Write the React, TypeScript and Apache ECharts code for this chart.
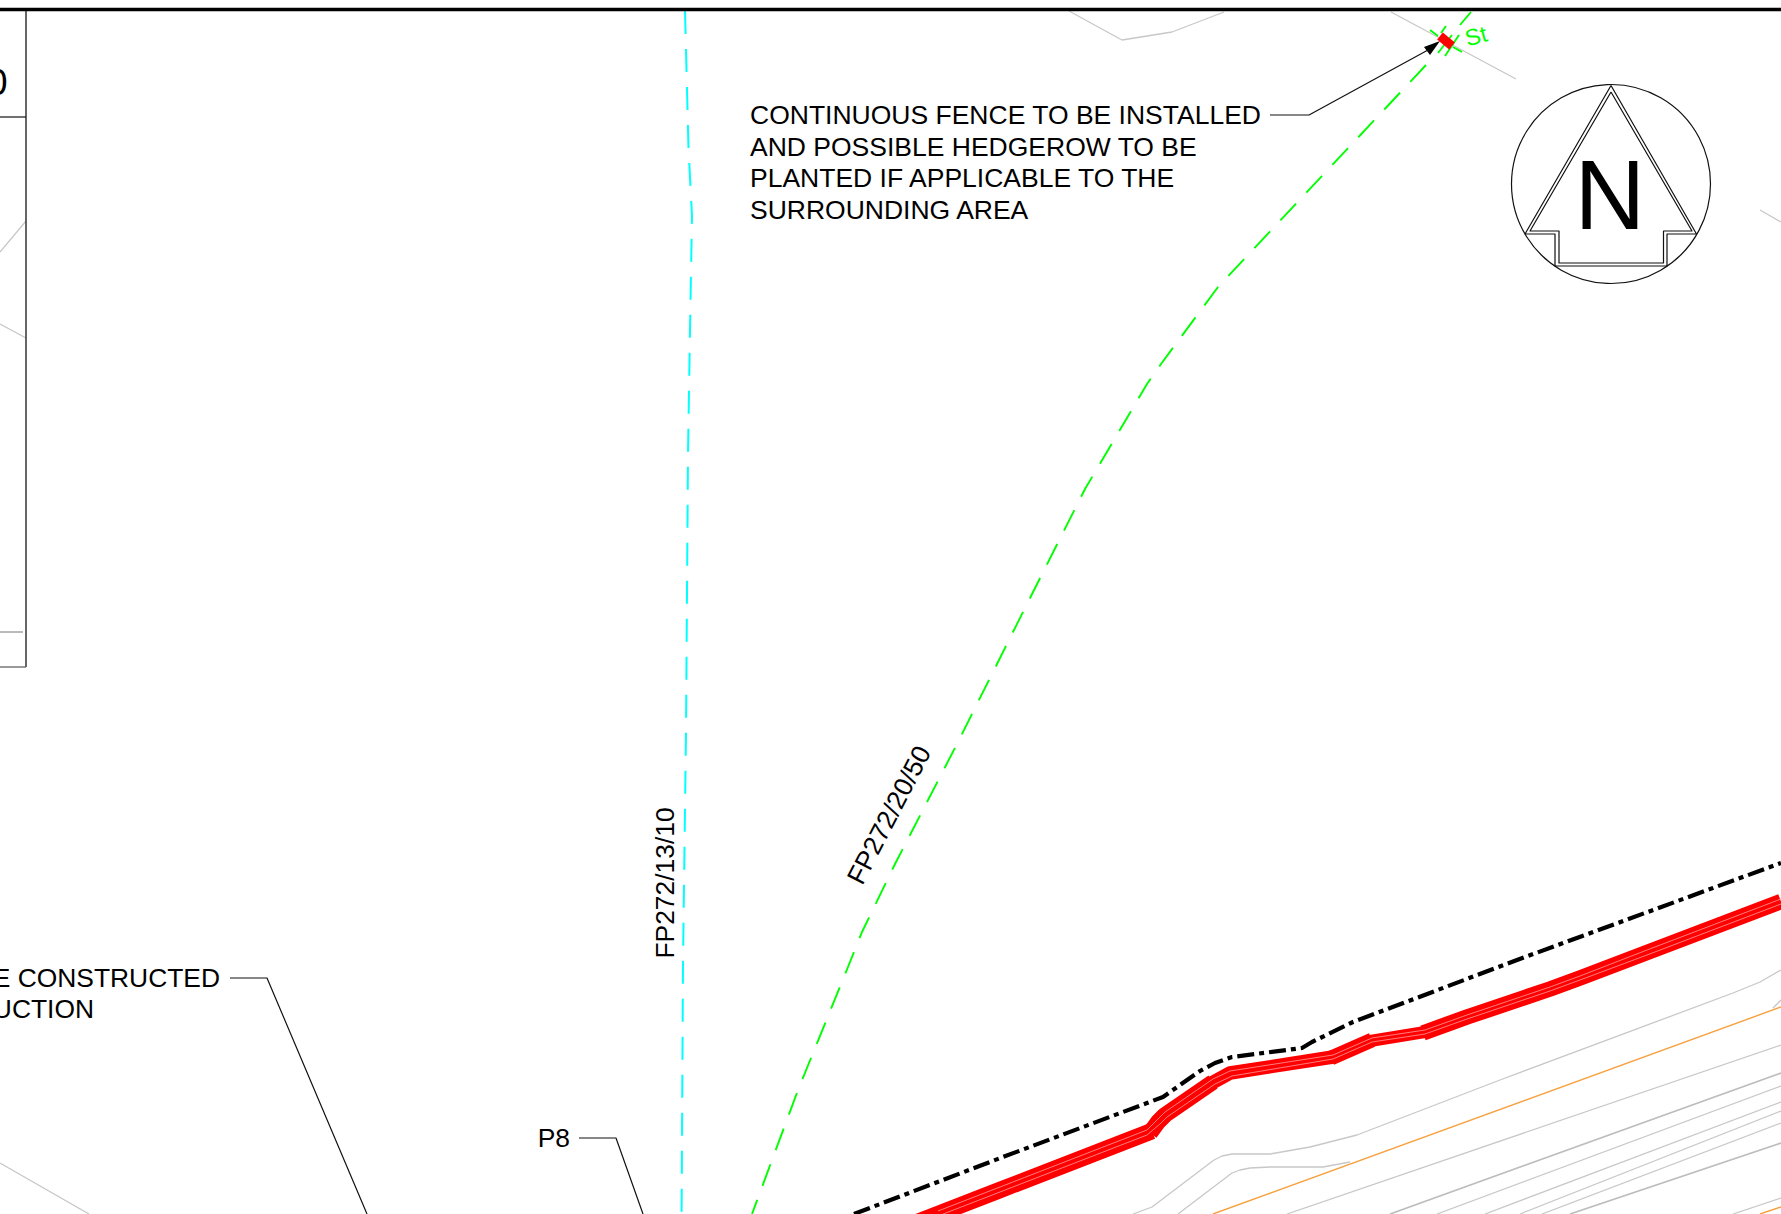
import React, { useEffect, useRef } from "react";
import * as echarts from "echarts";

type P = [number, number];

const PAGE_W = 1781;
const PAGE_H = 1214;

const frameTop: P[] = [[0, 9.5], [1781, 9.5]];
const tableRight: P[] = [[26, 9], [26, 667]];
const tableRow1: P[] = [[0, 117], [26, 117]];
const tableRow2: P[] = [[0, 632], [23, 632]];
const tableBottom: P[] = [[0, 667], [26, 667]];

const contourLeft1: P[] = [[0, 252], [26, 221]];
const contourLeft2: P[] = [[0, 324], [26, 338]];
const contourLeft3: P[] = [[0, 1163], [89, 1214]];
const contourTop: P[] = [[1069, 11], [1100, 28], [1122, 40], [1172, 32], [1224, 12]];
const contourStile: P[] = [[1391, 12], [1516, 79]];
const contourRight: P[] = [[1760, 210], [1781, 222]];

const cyanPath: P[] = [[685, 11], [688.5, 148], [692, 216], [690, 330], [688, 454], [686, 733], [683, 963], [681.6, 1214]];
const greenPath: P[] = [[1426, 65], [1218, 287], [1161, 364], [1147, 384], [1085, 489], [1028, 602], [958, 742], [895, 864], [862, 932], [848, 967], [798, 1090], [752, 1214]];
const greenTop: P[] = [[1471, 12], [1460, 25]];
const stileTicks: P[][] = [
  [[1430, 30], [1438, 36]],
  [[1453, 47], [1462, 52]],
  [[1446, 26], [1441, 33]],
  [[1438, 53], [1452, 35]],
  [[1445, 56], [1459, 35]],
];
const stileBar: P[] = [[1440, 36], [1452, 46]];

const boundary: P[] = [[854, 1214], [1003, 1157], [1147, 1103], [1163, 1097], [1200, 1071], [1215, 1063], [1232, 1057], [1302, 1048], [1312, 1042], [1353, 1022], [1517, 960], [1781, 863]];

const fenceSeg1: P[] = [[915, 1223], [1000, 1190], [1147, 1133], [1152, 1131]];
const fenceSeg2: P[] = [[1150, 1133], [1158, 1122], [1165, 1115], [1213, 1082]];
const fenceSeg3: P[] = [[1210, 1084], [1230, 1073], [1333, 1057]];
const fenceSeg4: P[] = [[1331, 1058], [1372, 1040]];
const fenceSeg5: P[] = [[1370, 1041], [1425, 1032]];
const fenceSeg6: P[] = [[1423, 1033], [1467, 1017], [1550, 989], [1580, 978], [1647, 952.5], [1781, 901.5]];
const fencePale1: P[] = [[938, 1211], [1000, 1187], [1147, 1130], [1158, 1119], [1165, 1112], [1213, 1079], [1230, 1071], [1333, 1055], [1372, 1038], [1425, 1030], [1467, 1015], [1550, 987], [1580, 976], [1647, 950], [1781, 899]];
const fencePale2: P[] = [[938, 1216], [1000, 1192], [1147, 1135], [1160, 1124], [1167, 1117], [1215, 1084], [1232, 1076], [1333, 1059], [1372, 1042], [1425, 1034], [1467, 1019], [1550, 991], [1580, 980], [1647, 955], [1781, 904]];

const grayA: P[] = [[1133, 1214], [1152, 1207], [1214, 1160], [1222, 1156], [1232, 1154], [1270, 1154], [1310, 1147], [1357, 1135], [1500, 1080], [1733, 993], [1760, 982], [1781, 970]];
const grayB: P[] = [[1178, 1214], [1232, 1173], [1240, 1170], [1250, 1168], [1270, 1167], [1323, 1167], [1350, 1162]];
const grayC: P[] = [[1287, 1214], [1781, 1045]];
const grayD: P[] = [[1390, 1214], [1781, 1073]];
const grayE: P[] = [[1437, 1214], [1781, 1086]];
const grayF: P[] = [[1485, 1214], [1781, 1102]];
const grayG: P[] = [[1520, 1214], [1781, 1111]];
const grayH: P[] = [[1542, 1214], [1781, 1123]];
const grayI: P[] = [[1570, 1214], [1781, 1143]];
const grayJ: P[] = [[1733, 1214], [1781, 1198]];
const grayK: P[] = [[1773, 1008], [1781, 1000]];
const orange1: P[] = [[1213, 1214], [1781, 1007]];
const orange2: P[] = [[1760, 1214], [1781, 1207]];

const leaderFence: P[] = [[1270, 115], [1309, 115], [1428, 50]];
const leaderConstructed: P[] = [[230, 978], [267, 978], [367, 1214]];
const leaderP8: P[] = [[579, 1138], [616, 1138], [643, 1214]];
const arrowHead: P[] = [[1440, 41], [1424, 47], [1430, 55]];

const northCentre: P = [1611, 184];
const northRadius = 99.5;
const northOuter: P[] = [[1611, 85.5], [1696.5, 234], [1667, 234], [1667, 266], [1555, 266], [1555, 234], [1525, 234], [1611, 85.5]];
const northInner: P[] = [[1611, 92], [1692, 231], [1663.5, 231], [1663.5, 263], [1559, 263], [1559, 231], [1530, 231], [1611, 92]];

const noteLines = [
  "CONTINUOUS FENCE TO BE INSTALLED",
  "AND POSSIBLE HEDGEROW TO BE",
  "PLANTED IF APPLICABLE TO THE",
  "SURROUNDING AREA",
];

const FONT = '"Liberation Sans", Arial, sans-serif';
const GRAY = "#c8c8c8";
const GREEN = "#00ff00";
const RED = "#ff0000";

function line(points: P[], color: string, width: number, dash?: number[]) {
  return {
    type: "line",
    data: points,
    symbol: "none",
    silent: true,
    lineStyle: { color, width, type: dash || "solid", cap: "butt", join: "round" },
  };
}

function label(text: string, x: number, y: number, fontSize: number, color: string, align = "left", rotationDeg = 0) {
  return {
    type: "text",
    x,
    y,
    rotation: (rotationDeg * Math.PI) / 180,
    silent: true,
    style: { text, x: 0, y: 0, fontSize, fontFamily: FONT, fill: color, align, verticalAlign: "middle" },
  };
}

export default function App() {
  const ref = useRef<HTMLDivElement>(null);
  useEffect(() => {
    const chart = echarts.init(ref.current!, null, { renderer: "svg" });
    const dash = [23, 15];
    const grays = [contourLeft1, contourLeft2, contourLeft3, contourTop, contourStile, contourRight, grayA, grayB, grayC, grayE, grayF, grayG, grayH, grayJ, grayK];
    chart.setOption({
      animation: false,
      backgroundColor: "#ffffff",
      grid: { left: 0, right: 0, top: 0, bottom: 0 },
      xAxis: { type: "value", min: 0, max: PAGE_W, show: false },
      yAxis: { type: "value", min: 0, max: PAGE_H, inverse: true, show: false },
      series: [
        ...grays.map((g) => line(g, GRAY, 1.3)),
        line(grayD, "#bdbdbd", 1.7),
        line(grayI, "#bdbdbd", 1.7),
        line(orange1, "#f7a03e", 1.4),
        line(orange2, "#f7a03e", 1.4),
        line(cyanPath, "#00ffff", 2, dash),
        line(greenPath, GREEN, 1.9, dash),
        line(greenTop, GREEN, 1.9),
        ...stileTicks.map((t) => line(t, GREEN, 1.9)),
        line(boundary, "#000000", 4.2, [17, 5, 5, 5]),
        line(fenceSeg1, RED, 16.5),
        line(fenceSeg2, RED, 16),
        line(fenceSeg3, RED, 13.5),
        line(fenceSeg4, RED, 15),
        line(fenceSeg5, RED, 12),
        line(fenceSeg6, RED, 15.5),
        line(fencePale1, "#ff9a9a", 0.8),
        line(fencePale2, "#ff9a9a", 0.8),
        line(stileBar, RED, 9),
        line(leaderFence, "#111111", 1.2),
        line(leaderConstructed, "#111111", 1.2),
        line(leaderP8, "#111111", 1.2),
        line(northOuter, "#111111", 1.2),
        line(northInner, "#111111", 1.2),
        line(tableRight, "#333333", 1.5),
        line(tableRow1, "#111111", 1.2),
        line(tableRow2, "#777777", 1),
        line(tableBottom, "#555555", 1.2),
        line(frameTop, "#000000", 3.4),
        {
          type: "custom",
          silent: true,
          data: [northCentre],
          encode: { x: 0, y: 1 },
          renderItem: (_: unknown, api: any) => {
            const c = api.coord(northCentre);
            const e = api.coord([northCentre[0] + northRadius, northCentre[1]]);
            return { type: "circle", shape: { cx: c[0], cy: c[1], r: e[0] - c[0] }, style: { fill: "none", stroke: "#111111", lineWidth: 1.2 } };
          },
        },
        {
          type: "custom",
          silent: true,
          data: [arrowHead[0]],
          encode: { x: 0, y: 1 },
          renderItem: (_: unknown, api: any) => ({
            type: "polygon",
            shape: { points: arrowHead.map((p) => api.coord(p)) },
            style: { fill: "#000000" },
          }),
        },
      ],
      graphic: [
        ...noteLines.map((t, i) => label(t, 750, 115 + i * 31.5, 26.5, "#000000")),
        label("E CONSTRUCTED", 220, 977.5, 26.4, "#000000", "right"),
        label("UCTION", 94, 1009, 26.4, "#000000", "right"),
        label("P8", 570, 1138, 26.4, "#000000", "right"),
        label("FP272/13/10", 665, 883, 26.4, "#000000", "center", 90),
        label("FP272/20/50", 889, 815, 26.4, "#000000", "center", 62.7),
        label("St", 1476, 36, 23, GREEN, "center", 15),
        label("N", 1610, 195, 98, "#000000", "center"),
        label("0", 7.5, 82.5, 37, "#000000", "right"),
      ],
    });
    return () => chart.dispose();
  }, []);
  return <div ref={ref} style={{ position: "fixed", left: 0, top: 0, width: PAGE_W, height: PAGE_H }} />;
}
